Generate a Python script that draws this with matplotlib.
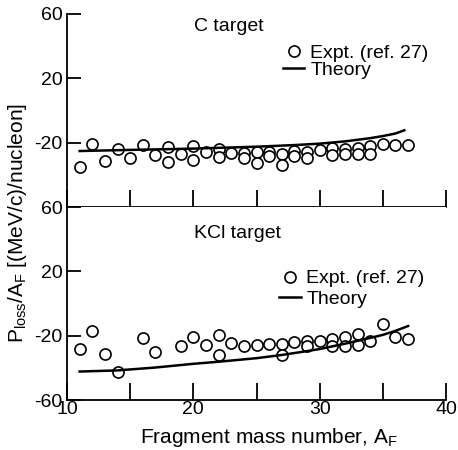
import matplotlib
matplotlib.use('Agg')
import matplotlib.pyplot as plt
from matplotlib.lines import Line2D
from matplotlib.ticker import MultipleLocator

plt.rcParams['font.family'] = ['Liberation Sans', 'DejaVu Sans']
plt.rcParams['mathtext.fontset'] = 'custom'
plt.rcParams['mathtext.rm'] = 'Liberation Sans'
plt.rcParams['mathtext.it'] = 'Liberation Sans:italic'
plt.rcParams['axes.unicode_minus'] = False

# ── Data ─────────────────────────────────────────────────────────────
c_mass = [11, 12, 13, 14, 15, 16, 17, 18, 18, 19, 20, 20, 21, 22, 22, 23,
          24, 24, 25, 25, 26, 26, 27, 27, 28, 28, 29, 29, 30, 31, 31, 32,
          32, 33, 33, 34, 34, 35, 36, 37]
c_ploss = [-35.1, -20.6, -31.6, -23.7, -29.7, -21.7, -27.9, -22.7, -32.0,
           -27.2, -22.1, -30.6, -25.8, -23.7, -28.7, -26.6, -26.6, -29.3,
           -25.6, -32.6, -25.6, -28.1, -27.2, -34.1, -25.4, -28.5, -25.6,
           -29.3, -24.8, -23.1, -27.7, -24.1, -27.2, -23.3, -26.8, -22.1,
           -26.8, -21.0, -21.4, -21.7]
c_theory_mass = [11, 15, 20, 25, 28, 30, 32, 34, 35, 36, 36.7]
c_theory = [-25.2, -24.5, -23.7, -22.5, -21.5, -20.6, -19.2, -17.2, -15.9,
            -14.3, -12.3]

kcl_mass = [11, 12, 13, 14, 16, 17, 19, 20, 21, 22, 22, 23, 24, 25, 26, 27,
            27, 28, 29, 29, 30, 31, 31, 32, 32, 33, 33, 34, 35, 36, 37]
kcl_ploss = [-28.3, -17.4, -31.2, -42.3, -21.6, -30.4, -26.2, -20.8, -25.8,
             -19.3, -32.2, -24.5, -26.4, -25.6, -25.4, -25.4, -32.0, -24.1,
             -23.5, -26.6, -23.3, -22.0, -26.2, -21.0, -26.6, -18.9, -25.6,
             -23.5, -12.6, -20.6, -21.8]
kcl_theory_mass = [11, 14, 17, 20, 22, 25, 27, 29, 30, 32, 34, 35, 36, 37]
kcl_theory = [-42.3, -41.6, -39.8, -37.5, -36.2, -34.0, -32.0, -29.6, -28.3,
              -25.0, -21.4, -19.5, -17.0, -14.0]

FS = 14


def style_axis(ax, yticks, xlabels):
    ax.set_xlim(10, 40)
    ax.set_ylim(-60, 60)
    ax.spines['top'].set_visible(False)
    ax.spines['right'].set_visible(False)
    ax.spines['left'].set_linewidth(1.3)
    ax.spines['bottom'].set_linewidth(1.3)
    ax.xaxis.set_major_locator(MultipleLocator(10))
    ax.xaxis.set_minor_locator(MultipleLocator(5))
    ax.set_yticks(yticks)
    ax.tick_params(axis='x', which='both', direction='in', length=12,
                   width=1.3, labelsize=FS, pad=1, labelbottom=xlabels)
    ax.tick_params(axis='y', direction='in', length=10, width=1.3,
                   labelsize=FS, pad=3)


def draw_panel(ax, mass, ploss, th_mass, th, title, title_xy, leg_anchor,
               leg_spacing):
    ax.plot(mass, ploss, 'o', ls='none', ms=8, mfc='white', mec='black',
            mew=1.2, clip_on=False)
    ax.plot(th_mass, th, '-', color='black', lw=1.8)
    ax.text(title_xy[0], title_xy[1], title, ha='center', va='center',
            fontsize=FS)
    handles = [
        Line2D([], [], marker='o', ls='none', ms=8, mfc='white',
               mec='black', mew=1.2),
        Line2D([], [], color='black', lw=1.8),
    ]
    ax.legend(handles, ['Expt. (ref. 27)', 'Theory'], loc='upper left',
              bbox_to_anchor=leg_anchor, frameon=False, fontsize=FS,
              borderpad=0, borderaxespad=0, handlelength=1.1,
              handletextpad=0.3, labelspacing=leg_spacing, numpoints=1)


fig = plt.figure(figsize=(4.58, 4.5), dpi=100)
ax_c = fig.add_axes([0.1463, 0.54, 0.8275, 0.4289])
ax_k = fig.add_axes([0.1463, 0.1111, 0.8275, 0.4289])

draw_panel(ax_c, c_mass, c_ploss, c_theory_mass, c_theory, 'C target',
           (22.8, 52.5), (0.57, 0.841), -0.05)
draw_panel(ax_k, kcl_mass, kcl_ploss, kcl_theory_mass, kcl_theory,
           'KCl target', (23.5, 43.5), (0.56, 0.675), 0.15)

style_axis(ax_c, [60, 20, -20], False)
style_axis(ax_k, [60, 20, -20, -60], True)

fig.text(18 / 458, 1 - 223 / 450,
         r'P$_{\rm loss}$/A$_{\rm F}$ [(MeV/c)/nucleon]',
         rotation=90, ha='center', va='center', fontsize=15)
fig.text(269 / 458, 1 - 443 / 450, r'Fragment mass number, A$_{\rm F}$',
         ha='center', va='baseline', fontsize=15)

fig.savefig('out.png', dpi=100)
